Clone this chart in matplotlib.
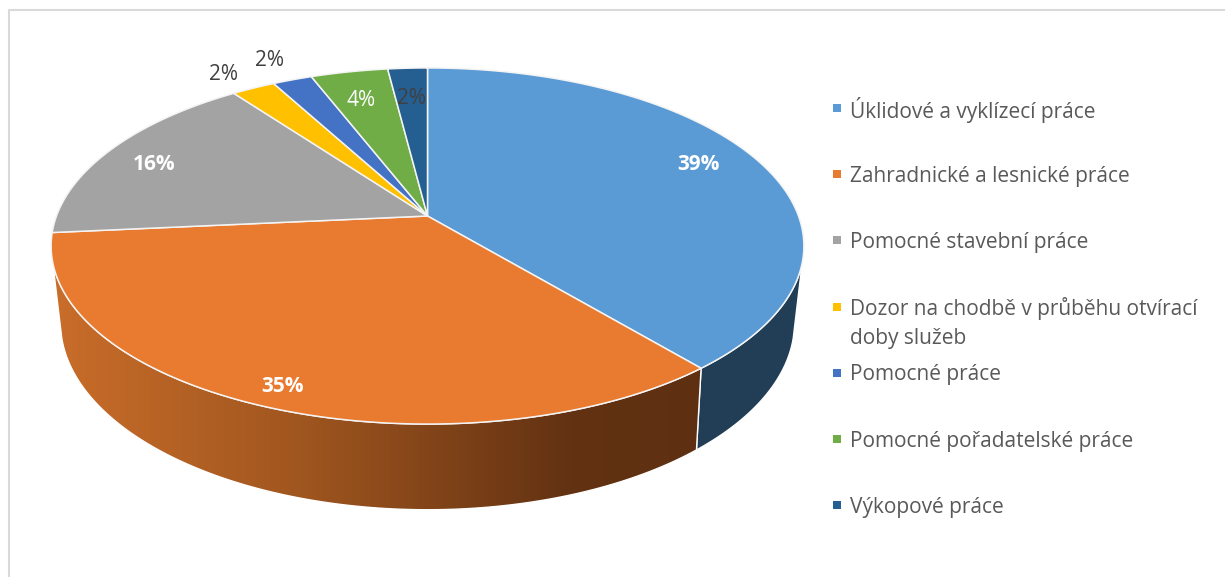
import numpy as np
import matplotlib
matplotlib.use('Agg')
from matplotlib import pyplot as plt
from matplotlib.colors import LinearSegmentedColormap
from matplotlib.patches import Polygon

plt.rcParams['font.family'] = ['Open Sans', 'DejaVu Sans']

categories = ['Úklidové a vyklízecí práce', 'Zahradnické a lesnické práce', 'Pomocné stavební práce',
              'Dozor na chodbě v průběhu otvírací\ndoby služeb', 'Pomocné práce',
              'Pomocné pořadatelské práce', 'Výkopové práce']
values = [38.9, 34.6, 16.4, 2.2, 2.0, 3.9, 2.0]
colors = ['#5B9BD5', '#E97B30', '#A3A3A3', '#FFC000', '#4472C4', '#70AD47', '#255E91']
label_pos = [(698, 164), (282, 386), (154, 165), (223, 75), (269, 61), (361, 100), (412, 99)]
label_col = ['white', 'white', 'white', '#404040', '#404040', 'white', '#404040']
label_bold = [True, True, True, False, False, False, False]

CX = 427.5


# circle -> picture, angle clockwise from the top, with a bit of perspective
def top_face(t):
    u, v = np.sin(t), np.cos(t)
    w = 1 + 0.1685 * v
    return np.column_stack([CX + 371 * u / w, 216 - 173 * v / w])


def bottom_face(t):
    u, v = np.sin(t), np.cos(t)
    w = 1 + 0.18 * v
    return np.column_stack([CX + 361 * u / w, 289 - 181 * v / w])


fig = plt.figure(figsize=(12.25, 5.77), dpi=100)
ax = fig.add_axes([0, 0, 1, 1])

edges = np.radians(np.concatenate([[0], np.cumsum(values)]) * 3.6)
wall_from, wall_to = np.radians(105), np.radians(255)

# side wall, only the two front slices show
dark = LinearSegmentedColormap.from_list('wall', [(0, '#C96D2A'), (0.38, '#A0561F'), (0.8, '#623212'),
                                                  (1, '#5E3011')])
for i, col in enumerate(['#213E56', None]):
    t = np.linspace(max(edges[i], wall_from), min(edges[i + 1], wall_to), 120)
    pts = np.vstack([top_face(t), bottom_face(t)[::-1]])
    if col:
        ax.add_patch(Polygon(pts, facecolor=col, edgecolor='white', lw=1))
    else:
        wall = Polygon(pts, facecolor='none', edgecolor='white', lw=1, zorder=3)
        ax.add_patch(wall)
        im = ax.imshow(np.linspace(0, 1, 256)[None, :], cmap=dark, aspect='auto',
                       extent=[pts[:, 0].min(), pts[:, 0].max(), 577, 0], zorder=2)
        im.set_clip_path(wall)

# top of the pie
for i, col in enumerate(colors):
    t = np.linspace(edges[i], edges[i + 1], 150)
    pts = np.vstack([[CX, 216], top_face(t)])
    ax.add_patch(Polygon(pts, facecolor=col, edgecolor='#F4F4F4', lw=1.1, zorder=4))

for v, pos, col, b in zip(values, label_pos, label_col, label_bold):
    ax.text(pos[0], pos[1], f'{round(v)}%', color=col, fontsize=15, ha='center', va='center',
            fontweight='bold' if b else 'normal', zorder=5)

# legend
for i, (name, col) in enumerate(zip(categories, colors)):
    y = 108 + 66.2 * i
    ax.plot([837], [y], 's', color=col, ms=5.5, mew=0)
    for j, line in enumerate(name.split('\n')):
        ax.text(850, y + 2 + 30 * j, line, color='#595959', fontsize=15, va='center')

# chart frame
ax.plot([9, 9, 1225], [577, 10, 10], color='#D9D9D9', lw=1.5)

ax.set_xlim(0, 1225)
ax.set_ylim(577, 0)
ax.axis('off')
fig.savefig('out.png', dpi=100)
